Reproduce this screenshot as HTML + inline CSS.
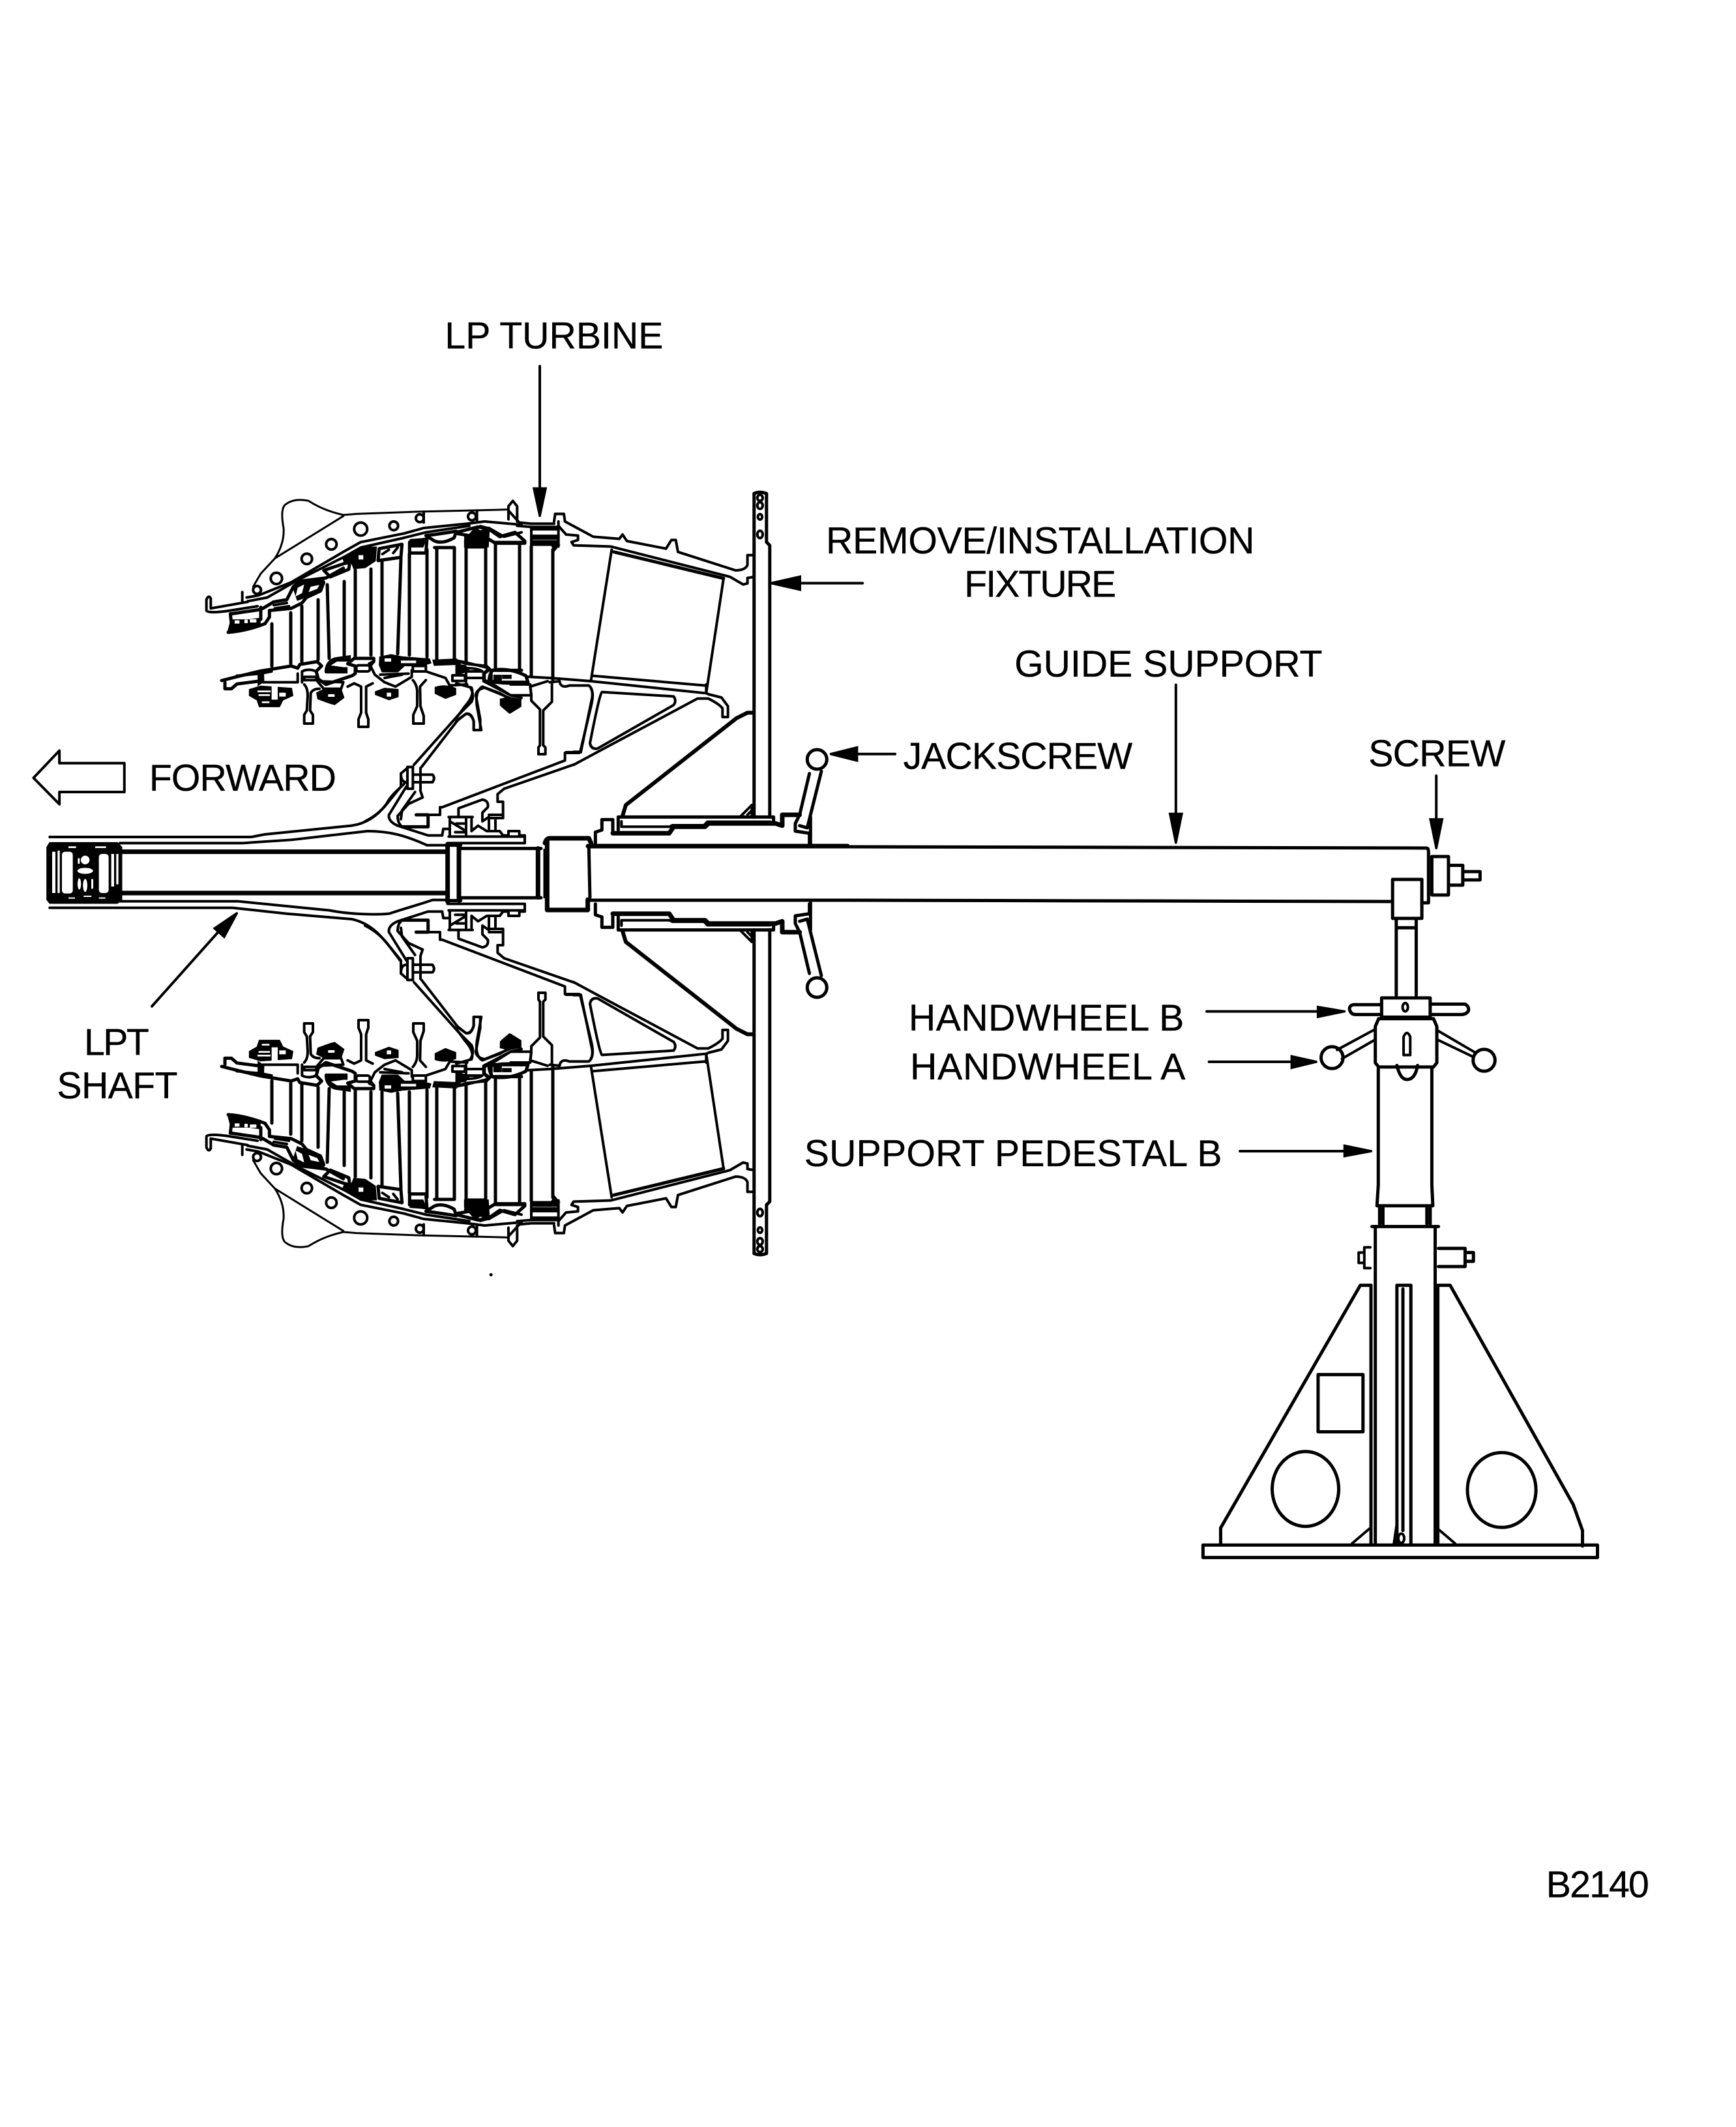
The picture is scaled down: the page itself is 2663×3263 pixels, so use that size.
<!DOCTYPE html>
<html><head><meta charset="utf-8"><title>LP turbine removal fixture</title>
<style>
html,body{margin:0;padding:0;background:#fff}
svg{display:block}
svg *{vector-effect:non-scaling-stroke}
.l{fill:none;stroke:#000;stroke-width:4;stroke-linejoin:round;stroke-linecap:round}
.l3{stroke-width:3}.l5{stroke-width:5}.l7{stroke-width:7}
.b{fill:#000;stroke:#000;stroke-width:3}
.w{fill:#fff;stroke:none}
text{font-family:"Liberation Sans",Arial,sans-serif;font-size:27.5px;fill:#000;stroke:#000;stroke-width:.35}
</style></head><body>
<svg xmlns="http://www.w3.org/2000/svg" width="2663" height="3263" viewBox="0 0 2663 3263">
<rect width="2663" height="3263" fill="#fff"/>
<defs>
<g id="half">
 <!-- blades -->
 <path class="l l5" d="M417,957V1022M446,940V1018M463,930V1017M488,920V1012M502,897L505,1010M528,892V1005M545,875V1007M569,873V1005M586,860V1005M615,857L610,1003M628,850V1005M655,843V1008M670,842V1012M697,840V1012M715,838V1018M745,838V1020M760,835V1025M797,833V1030M815,838V1037M848,843V1043"/>
 <!-- casing, crop A -->
 <g transform="translate(300,760) scale(.3333)">
  <path class="l l3" d="M365,290Q410,220 405,150Q390,70 410,45Q450,10 520,25Q590,70 680,90L740,85L1020,75L1440,65"/>
  <path class="l l3" d="M265,420L300,360L365,290L680,95"/>
  <path class="l" d="M235,470L290,460L440,400L680,260L760,215L960,175L1050,150L1250,130L1330,120L1500,135"/>
  <path class="l" d="M240,487L330,470L470,390L690,280L760,240L960,195L1060,170L1260,140"/>
  <g class="l"><circle cx="283" cy="435" r="18"/><circle cx="372" cy="382" r="26"/><circle cx="512" cy="292" r="24"/><circle cx="625" cy="225" r="24"/><circle cx="760" cy="155" r="30"/><circle cx="912" cy="140" r="20"/><circle cx="1032" cy="105" r="18"/><circle cx="1272" cy="97" r="18"/></g>
  <path class="l" d="M1050,75V125M1295,70V120M1440,110V50L1460,25L1480,50V120"/>
  <!-- flange -->
  <path class="l" d="M215,445V490M70,475V520L240,490M50,480Q60,455 70,475M50,480V530Q60,545 160,530L285,510"/>
  <path class="l l5" d="M150,630Q230,625 320,590L340,560V530M160,545L165,590L300,570V515M165,545L300,525"/>
  <path class="b" d="M165,575h130v20L200,615L150,630Z"/><rect class="w" x="180" y="575" width="22" height="15"/><rect class="w" x="225" y="572" width="15" height="16"/><rect class="w" x="250" y="570" width="30" height="15"/>
  <path class="l l5" d="M310,520L360,490L420,480L450,420L480,395L600,380L680,335"/>
  <path class="l l5" d="M340,530L440,520L490,495L510,470L575,440L590,400"/>
  <path class="b" d="M450,420L480,400L590,385L575,440L510,465L470,480Z"/><path class="w" d="M470,425L500,410L490,450L460,465ZM530,420L570,412L560,430L520,445Z"/>
  <path class="l" d="M360,505L420,495M365,520L430,510"/>
  <path class="l l5" d="M590,345L710,305L705,340L620,375Z"/>
  <path class="b" d="M680,290L760,240L830,240L825,300L780,330L730,335L720,310L690,315Z"/><rect class="w" x="750" y="275" width="22" height="20"/>
  <path class="l l5" d="M840,300L845,245L950,225L945,285Z"/><path class="l" d="M860,270L890,250M910,265L930,240"/>
  <path class="l l5" d="M985,265L985,215L1065,200L1060,265Z"/><path class="b" d="M990,205L1060,200L1045,235L995,235Z"/>
  <path class="l l5" d="M1060,185L1100,180L1200,165L1190,195Q1140,225 1100,210ZM1100,240H1190"/>
  <path class="b" d="M1240,205L1280,160L1310,140L1350,150L1345,235H1240Z"/><ellipse class="w" cx="1280" cy="200" rx="16" ry="8"/><ellipse class="w" cx="1312" cy="152" rx="10" ry="8"/>
  <path class="l" d="M1350,150L1420,190L1500,170M1380,215H1500"/>
 </g>
 <!-- right upper + plate, crop 5 -->
 <g transform="translate(700,780) scale(.3333)">
  <path class="l" d="M240,10L290,65L345,70H450M280,80L345,85H470V60"/>
  <path class="l" d="M450,60L455,25H495L500,60L630,130L750,140L765,120L785,150L965,185L990,145H1010L1020,200L1285,285Q1330,285 1340,260V215H1365"/>
  <path class="l" d="M470,80L505,120L560,125L560,145L530,155L540,170L710,175L1260,315L1320,350L1340,345V320L1370,315"/>
  <path class="l l5" d="M725,200L1230,322"/>
  <path class="l" d="M715,190L620,790M1230,322L1150,850"/>
  <path class="l" d="M625,770L1145,815"/>
  <path class="l" d="M330,775L430,780L620,795L1145,850"/>
  <path class="l" d="M440,800V890L400,930V1090L410,1100V1131H378V1100L385,1090V925L345,885V860L340,820L420,795"/>
  <path class="l" d="M430,800L475,795Q480,830 520,815H610Q630,830 625,870L573,1122H505"/>
  <rect class="b" x="345" y="85" width="120" height="12"/>
  <rect class="b" x="345" y="125" width="125" height="14"/>
  <rect class="b" x="350" y="150" width="115" height="18"/>
  <path class="l" d="M345,85V190M470,85V175"/>
  <path class="b" d="M440,170H470L452,192Z"/>
  <path class="l l5" d="M0,110L100,85L150,95L200,130L270,110L315,150V160H180L130,130L60,125L0,115"/>
  <path class="b" d="M40,130L145,145L135,180H45Z"/>
  <path class="l" d="M150,735L125,760V795L240,855M0,700L50,710L150,735"/>
  <path class="l l5" d="M165,745Q240,730 320,770L330,800H150Q150,770 165,745Z"/>
  <path class="b" d="M175,770h30v25h-30zM215,770h35v10h-35z"/>
  <path class="b" d="M205,880H295L285,915L245,940L210,910Z"/>
  <path class="b" d="M0,720L40,725L60,745L0,765Z"/>
  <rect class="w" x="60" y="738" width="40" height="10"/>
  <path class="l" d="M0,805L70,825Q85,860 40,910L0,965M90,860Q90,835 130,825L240,870M90,860L110,970V1020H80V980Q70,945 45,945L0,980"/>
  <path class="l" d="M250,810H340L345,860H250"/>
 </g>
 <!-- plate, z1 -->
 <g transform="translate(0,700) scale(.8292,.5102)">
  <path class="l l5" d="M1395,112Q1405,104 1418,112V258L1424,268V1085"/>
  <path class="l l5" d="M1395,112V1085"/>
  <g class="l"><ellipse cx="1406" cy="125" rx="5" ry="9"/><ellipse cx="1406" cy="148" rx="5" ry="10"/><ellipse cx="1406" cy="182" rx="4" ry="8"/><ellipse cx="1406" cy="235" rx="5" ry="11"/></g>
 </g>
 <!-- ring, crop 6 -->
 <g transform="translate(300,950) scale(.3333)">
  <path class="l l5" d="M120,282L200,262L300,238L440,215L470,225"/>
  <path class="l l5" d="M135,290V320H165L190,298L290,285"/>
  <path class="l" d="M190,260L300,250L350,240"/>
  <path class="b" d="M250,325L300,310L440,320L445,350L400,370L385,400H295L285,370L250,350Z"/>
  <rect class="w" x="285" y="328" width="60" height="8"/><rect class="w" x="290" y="345" width="52" height="8"/><rect class="w" x="305" y="378" width="35" height="8"/><rect class="w" x="350" y="295" width="28" height="75"/><rect class="w" x="385" y="338" width="30" height="18"/>
  <path class="b" d="M290,240L310,235L312,285L290,300Z"/>
  <path class="l" d="M310,290H470L470,250"/>
  <path class="l l5" d="M470,225L480,208L560,195L580,215L555,240L565,275L600,300L720,260L735,250V215L700,205L730,180H820V195L800,205"/>
  <path class="l" d="M500,265H555V280H500ZM555,240Q520,225 490,240V290"/>
  <path class="b" d="M598,240Q600,195 640,180L710,170V190L650,190L610,215L680,225H695V245H600Z"/>
  <rect class="l" x="740" y="212" width="62" height="28" rx="10"/>
  <path class="l" d="M820,195L805,215L825,255L870,290L920,310L995,265V235"/>
  <path class="b" d="M850,175L900,165L950,175L1075,185L1080,200L1040,212H960L930,240L860,240L848,210Z"/>
  <rect class="w" x="945" y="190" width="70" height="12"/><rect class="w" x="870" y="180" width="30" height="15"/>
  <path class="l" d="M850,255L980,250M870,270L950,255M1000,215H1060V240H1000Z"/>
  <path class="b" d="M560,340L590,325L670,330L680,360L640,390L620,385L565,365Z"/>
  <rect class="w" x="610" y="345" width="30" height="12"/>
  <path class="l" d="M560,285L680,290L670,320H590Z"/>
  <path class="l" d="M500,300Q520,320 515,370L512,420L500,440V480H540V440L527,420L530,340Q540,320 570,320"/>
  <path class="l" d="M700,310L730,295L762,310V430L750,460V495H795V460L785,430V310L815,295"/>
  <path class="l" d="M1000,280Q1018,300 1020,330V400L1002,440V480H1050V445L1035,400L1033,310L1060,280"/>
  <path class="b" d="M830,335L870,320L930,325V355L890,368L830,345Z"/>
  <rect class="w" x="880" y="338" width="20" height="18"/>
  <path class="b" d="M1105,315Q1150,300 1195,320V345L1150,362L1105,340Z"/>
  <path class="b" d="M1405,370L1440,360L1495,372V400L1450,428L1405,395Z"/>
  <rect class="l" x="1182" y="258" width="58" height="26"/>
  <path class="b" d="M1095,190L1200,185L1215,205L1100,210Z"/>
  <path class="l" d="M1200,190L1245,205L1340,215L1355,230L1330,250V280L1370,300L1450,350L1500,362"/>
  <path class="l" d="M1060,240L1150,270L1170,305L1250,300M1245,270H1330M1240,240H1320Q1300,225 1245,225V290"/>
  <path class="l l5" d="M1360,235H1500M1360,285Q1420,300 1500,290M1360,235V285"/>
  <path class="l" d="M1285,510H1315L1295,400Q1285,330 1320,310L1400,340L1470,380"/>
  <path class="l" d="M1280,510V470Q1270,430 1245,435L1210,460L1040,680"/>
  <path class="l" d="M1265,315Q1285,350 1270,380L1210,440L1005,670"/>
 </g>
 <!-- hub, crop B -->
 <g transform="translate(560,1150) scale(.3333)">
  <path class="l" d="M0,330Q60,300 100,250L165,170V110L200,80"/>
  <path class="l" d="M165,110Q165,150 190,150M195,80H220V180H195ZM220,115H310Q325,130 310,150H220M255,85V190"/>
  <path class="l" d="M190,170L110,300Q105,330 150,350L290,395H355L360,365H385"/>
  <path class="l" d="M255,190L265,220L200,250L150,305Q150,335 165,350M230,195L170,280L165,320"/>
  <path class="l l5" d="M235,300H290V355H170"/><rect class="w" x="245" y="310" width="25" height="25"/>
  <path class="l" d="M290,300H345V265H355L920,50V15H985"/>
  <path class="l" d="M640,180L960,69"/>
  <path class="l" d="M640,180L610,205V240H635V300H570M430,310V270L540,230Q570,235 565,265L540,290V330L570,310M565,315H635V300M570,325V365M600,325V365"/>
  <path class="l" d="M490,320V375L520,350L560,375H620L635,395H660V375H710V395H735V430H380M385,400H735M385,310H495M390,315V400M390,330L465,375M420,340H465M415,380H465M465,320V395"/>
 </g>
 <!-- collar, crop C -->
 <g transform="translate(880,1050) scale(.3333)">
  <path class="l l5" d="M100,730V680L130,670V622H180V685"/>
  <path class="l l7" d="M180,685H440L460,655H605L620,640H930L960,650V600H1040"/>
  <path class="l l5" d="M205,670V610H920V640"/>
  <path class="l" d="M220,630V655H440L455,648H600L615,632H905"/>
  <path class="l" style="stroke-width:6" d="M825,130H800L750,155L240,555L225,605"/>
  <path class="l" d="M770,605L820,555V600M800,600L820,580"/>
  <circle class="l l5" cx="1120" cy="345" r="45"/>
  <path class="l l5" d="M1085,410L1040,600L1020,640V675L1085,685V730M1140,400L1075,660M1040,650L1075,660M1090,610V735"/>
  <path class="l" d="M130,35Q120,40 75,270Q80,300 110,295L460,95Q475,75 460,55Z"/>
  <path class="l" d="M80,20Q95,40 80,100L30,310H0"/>
  <path class="l" d="M0,370L130,300L570,65H620Q670,90 685,110V150H710V100L680,60L620,45L610,40V0"/>
 </g>
</g>
</defs>

<use href="#half"/>
<use href="#half" transform="translate(0,2680) scale(1,-1)"/>

<!-- shaft outer lines, zoom-2 coords -->
<g transform="translate(0,1100) scale(.8292,.3333)">
 <path class="l" d="M92,552H465L490,540L650,500C680,490 700,450 715,400C725,350 745,320 750,300"/>
 <path class="l" d="M222,580H450L540,565L680,525C720,525 750,545 790,590H830"/>
 <path class="l" d="M92,878H430L530,905L650,930C690,950 710,1020 740,1120"/>
 <path class="l" d="M222,848H440L610,890C650,910 700,910 720,905C750,880 780,860 800,842H830"/>
</g>
<!-- nut -->
<g transform="translate(60,1250) scale(.3333)">
 <path class="b" d="M50,130H360L378,150V390L360,405H50L38,390V150Z"/>
 <g class="w">
  <rect x="60" y="170" width="15" height="190"/><rect x="85" y="165" width="10" height="195"/><rect x="105" y="170" width="50" height="192" rx="14"/>
  <rect x="178" y="200" width="9" height="25"/><circle cx="212" cy="208" r="20"/><ellipse cx="212" cy="258" rx="36" ry="14"/><ellipse cx="185" cy="318" rx="8" ry="26"/><ellipse cx="212" cy="325" rx="10" ry="30"/><rect x="240" y="296" width="9" height="44"/>
  <rect x="275" y="180" width="45" height="180" rx="14"/><rect x="332" y="180" width="13" height="150"/><rect x="355" y="180" width="10" height="140"/>
  <rect x="135" y="145" width="35" height="8"/><rect x="258" y="145" width="50" height="8"/><rect x="135" y="380" width="30" height="6"/><rect x="205" y="372" width="36" height="6"/><rect x="275" y="380" width="30" height="6"/>
 </g>
</g>
<!-- sleeve + block, crop B -->
<g transform="translate(560,1150) scale(.3333)">
 <path class="l" style="stroke-width:7" d="M-1120,470H375M-1120,660H375"/>
 <path class="l l7" d="M380,435V700M432,435V695"/>
 <path class="l l5" d="M380,440H440M380,695H440"/>
 <path class="l l5" d="M440,455H810M440,682H810"/>
 <path class="l l7" d="M796,455V680"/>
 <path class="l l3" d="M825,460V680"/>
 <path class="l l7" d="M828,430Q835,408 850,408H1030L1040,430M838,415V738H1025V690"/>
 <path class="l l5" d="M1030,450L1035,680"/>
</g>
<!-- tube -->
<path class="l l7" d="M902,1298H1300"/>
<path class="l l5" d="M1300,1299L2188,1301M902,1381H1300L2136,1383"/>

<!-- stand, zoom-3 coords -->
<g transform="translate(1750,1200) scale(.5102,.7972)">
 <path class="l l5" d="M860,127Q865,127 865,135V232H850"/>
 <rect class="l l5" x="875" y="143" width="50" height="74"/>
 <path class="l l5" d="M925,160H968V198H925M968,172H1020V188H968"/>
 <rect class="l l5" x="757" y="187" width="88" height="75"/>
 <path class="l l5" d="M768,265V410M828,265V410M768,280H828"/>
 <rect class="l l5" x="724" y="415" width="146" height="37"/>
 <circle class="l" cx="795" cy="433" r="8"/>
 <path class="l l5" d="M722,428H640Q625,430 628,438Q632,447 645,447H722M873,427H975Q988,432 985,440Q978,447 965,447H873"/>
 <path class="l l5" d="M705,470L715,455H880L890,470V540L880,548H715L705,540Z"/>
 <path class="l" d="M790,525V490Q800,475 810,490V525Z"/>
 <path class="l l5" d="M770,545Q780,572 800,572Q825,572 832,545"/>
 <path class="l" d="M590,515L700,477M605,532L700,497M890,477L1005,520M890,495L998,528"/>
 <ellipse class="l l5" cx="575" cy="530" rx="33" ry="21"/><ellipse class="l l5" cx="1032" cy="535" rx="33" ry="21"/>
 <path class="l l5" d="M714,550V775L710,815H878L875,775V550"/>
 <path class="l l5" d="M718,815V850M870,815V850M728,820V850M860,820V850"/>
 <path class="l l5" d="M695,855H895"/>
 <path class="l l5" d="M705,855V1465M885,855V1465M692,968V1465M893,968V1465"/>
 <path class="l" d="M690,895H672V935H690M672,905H655V925H672"/>
 <path class="l l5" d="M895,897H975V932H895M975,905H1000V922H975"/>
 <path class="l l5" d="M692,968H660L240,1435V1465M895,968H930L1300,1390L1328,1440V1470"/>
 <path class="l l5" d="M770,968V1465M772,968H812V1465M788,975V1440M770,1430L762,1465"/>
 <circle class="l" cx="783" cy="1455" r="9"/>
 <rect class="l l5" x="533" y="1140" width="135" height="110"/>
 <ellipse class="l l5" cx="495" cy="1360" rx="100" ry="72"/><ellipse class="l l5" cx="1085" cy="1362" rx="103" ry="72"/>
 <rect class="l l5" x="187" y="1468" width="1186" height="24"/>
 <path class="l" d="M635,1465L690,1435M890,1435L945,1465"/>
 <path class="l" d="M198,441H540M205,538H460M298,710H620"/>
 <path class="b" d="M532,432V452L615,441ZM453,527V550L530,538ZM612,699V720L695,710Z"/>
</g>

<g transform="scale(2.0805)">
 <!-- arrows -->
 <g class="l" style="stroke-width:4">
  <path d="M398,270V362M867,505V602M1059,572V606M636,430H590M660,556H632M112,742L162,686"/>
 </g>
 <path class="b" d="M393.5,360H402.5L398,381ZM862.5,600H871.5L867,622ZM1054.5,604H1063.5L1059,626ZM590,425V435L568,430ZM632,551V561L612,556ZM165.3,691L158,684.5L175,673Z"/>
 <path class="l" style="stroke-width:4" d="M24.7,573.6L43.8,553.5V562.7H91.7V584H43.8V593Z"/>
 <circle cx="362" cy="940" r="1.2"/>
 <!-- labels -->
 <text x="328" y="257" textLength="161">LP TURBINE</text>
 <text x="609" y="408" textLength="316">REMOVE/INSTALLATION</text>
 <text x="711" y="440" textLength="112">FIXTURE</text>
 <text x="748" y="499" textLength="227">GUIDE SUPPORT</text>
 <text x="666" y="567" textLength="169">JACKSCREW</text>
 <text x="1009" y="565" textLength="101">SCREW</text>
 <text x="110" y="583" textLength="138">FORWARD</text>
 <text x="62" y="778" textLength="48">LPT</text>
 <text x="42" y="810" textLength="89">SHAFT</text>
 <text x="670" y="760" textLength="203">HANDWHEEL B</text>
 <text x="671" y="796" textLength="203">HANDWHEEL A</text>
 <text x="593" y="860" textLength="308">SUPPORT PEDESTAL B</text>
 <text x="1140" y="1399" textLength="76">B2140</text>
</g>
</svg>
</body></html>
